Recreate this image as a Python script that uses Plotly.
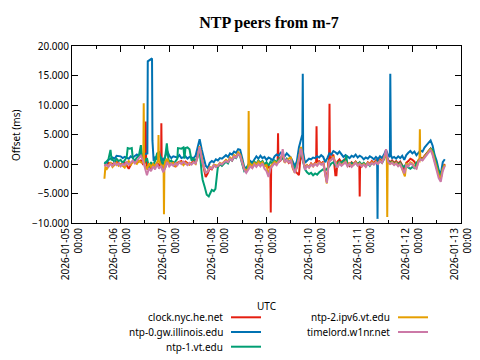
import pandas as pd
import plotly.graph_objects as go

# ---- data: (hours after 2026-01-05 00:00 UTC, offset in ms) ----
series_names = ["clock.nyc.he.net", "ntp-0.gw.illinois.edu", "ntp-1.vt.edu",
                "ntp-2.ipv6.vt.edu", "timelord.w1nr.net"]
series_colors = ["#e51e10", "#0072b2", "#009e73", "#e69f00", "#cc79a7"]

clock_nyc = [(16,-0.3),(18,0.2),(20,0.0),(22,0.4),(24,-0.1),(26,0.3),(28,-0.8),(29,-0.2),(30,0.5),(32,0.2),(34,0.6),(35,0.0),(36.2,0.3),(36.4,7.2),(36.6,0.4),(37.5,-1.0),(38,-0.3),(39,-0.8),(40,0.1),(41,-0.6),(42,0.3),(43,-0.4),(44.0,0.2),(44.1,6.9),(44.3,-0.5),(45,-1.2),(46,-0.6),(47,0.4),(48,-0.2),(50,0.3),(51,-0.5),(52,0.2),(54,0.5),(55,0.0),(56,0.4),(58,-0.1),(60,0.5),(61,0.2),(62,1.5),(63,2.8),(64,1.0),(65,-0.8),(66,-2.2),(67,-1.6),(68,-0.7),(69,-0.9),(70,-0.3),(72,-0.5),(73,0.0),(74,-0.2),(76,0.6),(77,0.3),(78,1.0),(79,0.6),(80,1.4),(81,1.2),(82,1.8),(83,1.6),(84,0.3),(85,-1.0),(86,-1.2),(87,-0.6),(88,-0.2),(89,-0.6),(90,0.3),(91,0.0),(92,0.5),(93,0.1),(94,0.4),(95,-0.3),(96,0.2),(97,-0.6),(97.9,-0.5),(98.1,-8.2),(98.3,-0.6),(99,-0.2),(100,0.3),(101,0.1),(101.5,0.4),(101.7,5.2),(101.9,0.3),(103,0.6),(104,1.5),(105,0.4),(106,0.8),(107,0.2),(108,0.5),(109,-0.6),(110,-1.2),(111,-1.5),(112,-1.9),(113,1.9),(114,0.8),(115,-0.6),(116,-0.2),(117,-0.5),(118,0.1),(119,-0.3),(120,0.2),(120.5,0.3),(120.7,6.4),(120.9,0.4),(122,0.5),(123,0.0),(124,0.4),(125,-1.5),(125.8,-3.0),(126.5,0.3),(126.9,0.8),(127.1,10.2),(127.3,0.6),(128,0.9),(129,1.6),(130,-1.9),(130.5,-1.9),(131,0.4),(132,0.8),(133,0.3),(134,0.6),(135,0.9),(136,0.2),(137,-0.3),(138,0.3),(139,0.0),(140,0.4),(141,-0.1),(141.8,0.2),(142,-5.5),(142.2,0.0),(143,-0.4),(144,0.1),(145,-0.3),(146,0.3),(147,0.0),(148,0.5),(149,0.1),(150,0.6),(151,0.2),(152,0.8),(153,0.4),(154,1.1),(155,1.8),(156,0.7),(157,0.3),(158,0.6),(159,0.2),(160,0.5),(161,0.1),(162,0.4),(163,-0.2),(164,-1.2),(165,0.2),(166,0.5),(167,0.9),(168,0.7),(169,0.4),(170,-0.3),(171,0.6),(172,1.1),(173,0.9),(174,1.4),(175,1.8),(176,2.3),(177,2.6),(178,1.8),(179,0.5),(180,-0.8),(181,-1.8),(182,-2.5),(183,-0.6),(184,0.0)]

ntp0_illinois = [(16,0.3),(17,0.1),(18,0.7),(20,1.1),(21,0.9),(22,1.4),(24,1.3),(25,1.0),(26,1.2),(28,0.9),(29,1.3),(30,1.1),(32,1.6),(33,1.3),(34,1.9),(35,1.5),(36,1.7),(37.2,1.8),(37.4,17.4),(38.5,17.7),(39.5,17.9),(39.7,4.0),(40.3,0.5),(41,1.2),(42,0.8),(43,1.5),(44,1.1),(45,0.6),(46,1.3),(47,2.2),(48,1.4),(49,1.0),(50,1.3),(52,1.1),(53,1.5),(54,1.0),(56,1.3),(57,0.9),(58,1.2),(60,1.0),(61,1.4),(62,2.6),(63,4.2),(64,2.5),(65,1.0),(66,-0.3),(67,-0.7),(68,0.2),(69,0.5),(70,0.3),(71,0.8),(72,0.6),(73,1.0),(74,0.9),(76,1.5),(77,1.2),(78,1.8),(79,1.6),(80,2.1),(81,1.9),(82,2.5),(83,2.4),(84,1.0),(85,-0.5),(86,-0.7),(87,0.0),(88,0.5),(89,0.2),(90,0.8),(91,1.3),(92,0.9),(93,1.4),(94,1.0),(95,1.2),(96,0.7),(97,1.1),(98,0.9),(99,0.6),(100,1.3),(101,1.6),(102,1.4),(103,1.9),(104,1.6),(105,1.3),(106,1.8),(107,1.5),(108,1.1),(109,0.4),(110,-0.4),(111,0.5),(112,2.8),(113,4.1),(113.7,5.0),(113.9,15.3),(114.1,2.0),(115,0.2),(116,0.6),(117,0.9),(118,0.8),(119,1.1),(120,1.0),(121,1.3),(122,1.1),(123,1.5),(124,1.2),(125,0.3),(126,1.0),(127,1.8),(128,1.6),(129,2.2),(130,2.0),(131,1.7),(132,2.1),(133,1.6),(134,1.2),(135,1.5),(136,1.3),(137,1.0),(138,1.4),(139,1.2),(140,1.6),(141,1.1),(142,1.4),(143,1.2),(144,0.8),(145,1.1),(146,0.9),(147,1.3),(148,1.1),(149,0.8),(150,1.2),(150.6,1.0),(150.8,-9.3),(151.0,0.8),(152,1.3),(153,1.0),(154,1.6),(155,2.4),(156,1.5),(156.9,1.2),(157.1,15.3),(157.4,1.5),(158,1.0),(159,1.2),(160,0.9),(161,1.3),(162,1.0),(163,1.4),(164,0.7),(165,1.5),(166,1.9),(167,2.2),(168,1.8),(169,2.1),(170,1.5),(171,2.0),(172,2.3),(173,2.1),(174,2.8),(175,3.2),(176,3.6),(177,4.0),(178,3.1),(179,1.5),(180,0.5),(181,-1.0),(182,-1.8),(182.5,-0.8),(183,0.3),(184,0.8)]

ntp1_vt = [(16,0.0),(17,0.4),(18,0.8),(19,2.4),(19.6,0.6),(20,0.8),(21,0.3),(22,0.9),(23,0.5),(24,0.7),(25,0.2),(26,0.6),(27,1.2),(27.5,2.7),(28.5,2.6),(29.5,2.7),(30,1.0),(31,0.5),(32,1.1),(33,1.4),(34,3.2),(34.5,1.6),(35,0.9),(36,0.4),(37,1.0),(38,-0.6),(39,0.3),(40,-0.2),(41,0.5),(42,1.8),(43,2.0),(44,0.8),(45,-0.4),(46,1.2),(46.8,3.5),(47.5,1.0),(48,0.3),(49,0.6),(50,0.1),(51,0.4),(52,0.9),(52.3,2.7),(54,2.6),(55,2.8),(55.5,0.9),(56,2.7),(57,2.8),(58,2.5),(59,0.6),(60,0.9),(61,0.5),(62,1.3),(63,2.3),(64,-1.5),(64.5,-2.7),(65.5,-3.9),(66.5,-5.2),(67.5,-5.5),(68.5,-4.8),(69,-4.4),(70,-4.6),(70.8,-4.2),(71.5,-2.0),(72,-0.5),(73,0.0),(74,-0.3),(76,0.4),(77,0.1),(78,0.9),(79,0.6),(80,1.2),(81,1.0),(82,1.7),(83,1.3),(84,0.0),(85,-1.2),(86,-0.9),(87,-0.2),(88,0.2),(89,-0.3),(90,0.4),(91,0.0),(92,0.6),(93,0.2),(94,0.5),(95,-0.1),(96,0.3),(97,-0.3),(98,0.4),(99,0.1),(100,0.6),(101,0.3),(102,0.8),(103,1.1),(104,0.9),(105,0.5),(106,0.9),(107,0.4),(108,0.6),(109,-0.2),(110,-0.9),(111,0.0),(112,1.0),(113,2.0),(114,0.5),(115,-0.9),(116,-1.4),(117,-1.7),(118,-1.5),(119,-1.9),(120,-1.6),(121,-1.8),(122,-1.4),(123,-1.2),(124,-0.9),(125,-1.1),(126,-0.8),(127,-0.4),(128,0.1),(129,0.3),(130,-0.2),(131,0.1),(132,0.4),(133,0.2),(134,0.6),(135,0.5),(135.4,1.5),(135.8,0.0),(137,-0.2),(138,0.2),(139,-0.1),(140,0.3),(141,0.0),(142,0.3),(143,-0.1),(144,0.2),(145,-0.2),(146,0.1),(147,-0.3),(148,0.2),(149,0.0),(150,0.3),(151,0.1),(152,0.5),(153,0.2),(154,0.8),(155,1.7),(156,0.5),(157,0.2),(158,0.4),(159,0.0),(160,0.3),(161,-0.1),(162,0.2),(163,-0.3),(164,-0.5),(165,0.1),(166,-0.6),(167,-0.8),(168,-0.5),(169,-0.7),(170,0.2),(171,0.5),(172,0.9),(173,0.8),(174,1.3),(175,1.7),(176,2.2),(177,2.6),(178,2.4),(179,1.2),(180,-0.2),(181,-1.3),(182,-2.0),(183,-0.8),(184,-0.2)]

ntp2_ipv6_vt = [(16,-2.5),(16.5,-0.4),(17,-1.0),(18,-0.2),(19,0.3),(20,-0.5),(22,0.2),(23,-0.3),(24,0.0),(26,-0.6),(27,0.1),(28,0.5),(29,-0.1),(30,0.4),(32,0.0),(33,0.6),(34,0.3),(35.2,0.2),(35.4,10.3),(35.6,0.3),(36,-0.4),(37,-0.9),(38,0.1),(39,-0.5),(40,0.0),(41,-0.4),(42,0.5),(42.5,0.6),(42.7,4.9),(42.9,0.5),(44,-0.2),(45.2,-0.3),(45.4,-8.5),(45.6,-0.5),(46,0.4),(47,0.9),(48,0.0),(50,0.2),(51,-0.3),(52,0.1),(54,0.3),(55,-0.2),(56,0.2),(58,-0.1),(60,0.3),(61,0.0),(62,1.2),(63,3.0),(64,1.2),(65,-0.5),(66,-1.5),(67,-1.2),(68,-0.5),(69,-0.7),(70,-0.1),(72,-0.3),(73,0.2),(74,0.0),(76,0.7),(77,0.4),(78,1.1),(79,0.8),(80,1.5),(81,1.3),(82,2.0),(83,1.6),(84,0.4),(85,-0.8),(86,-1.1),(87.0,-0.8),(87.2,9.0),(87.4,-0.5),(88,0.0),(89,-0.4),(90,0.2),(91,-0.1),(92,0.4),(93,0.0),(94,0.3),(95,-0.5),(96,-0.1),(97,-2.0),(98,-0.4),(99,0.0),(100,0.4),(101,0.1),(102,0.6),(103,0.9),(104,1.8),(105,0.2),(106,0.6),(107,0.9),(108,1.2),(109,-0.8),(110,-1.5),(111,-0.6),(112,0.9),(113,2.9),(114,1.0),(115,-0.7),(116,-0.2),(117,-0.6),(118,0.0),(119,-0.4),(120,0.1),(121,-0.2),(122,0.3),(123,0.0),(124,0.2),(125,-1.8),(125.8,-3.3),(126.5,-0.5),(127,0.6),(128,0.8),(129,1.3),(130,0.3),(131,-0.5),(132,0.2),(133,-0.2),(134,0.1),(135,0.4),(136,-0.3),(137,0.1),(138,-0.4),(139,0.0),(140,0.3),(141,-0.2),(142,0.1),(143,-0.3),(144,0.0),(145,-0.4),(146,0.2),(147,-0.1),(148,0.3),(149,0.0),(150,0.4),(151,0.1),(152,0.6),(153,0.3),(154,1.0),(155,1.9),(155.4,0.5),(155.6,-9.0),(155.8,0.3),(157,0.0),(158,0.3),(159,-0.1),(160,0.2),(161,-0.3),(162,0.0),(163,-1.0),(164.3,-2.1),(165,0.0),(166,-0.2),(167,0.3),(168,0.1),(169,-0.5),(170,-0.7),(171,0.6),(171.5,0.5),(171.7,5.9),(171.9,0.8),(173,0.7),(174,1.3),(175,1.6),(176,2.2),(177,2.5),(178,1.9),(179,0.6),(180,-0.8),(181,-1.9),(182,-2.4),(183,-0.8),(184,-0.1)]

timelord_w1nr = [(16,-0.4),(17,-0.1),(18,-0.5),(19,0.0),(20,-0.3),(21,0.2),(22,-0.2),(23,0.1),(24,-0.4),(25,0.0),(26,-0.2),(27,0.3),(28,-0.1),(29,0.2),(30,0.6),(31,0.1),(32,0.5),(33,0.9),(34,1.4),(35,0.6),(36,-0.6),(37,-1.9),(38,-0.7),(39,-1.2),(40,-0.4),(41,-0.9),(42,0.0),(43,-0.8),(44,-0.3),(45,-1.4),(46,-0.6),(47,0.3),(48,-0.4),(49,0.0),(50,-0.3),(51,0.1),(52,-0.2),(53,0.3),(54,0.0),(55,0.4),(56,0.1),(57,-0.2),(58,0.2),(59,-0.1),(60,0.3),(61,0.1),(62,1.2),(63,2.9),(64,0.8),(65,-0.6),(66,-1.5),(67,-1.3),(68,-0.6),(69,-0.8),(70,-0.2),(71,-0.5),(72,-0.3),(73,0.1),(74,-0.1),(75,0.3),(76,0.5),(77,0.3),(78,0.9),(79,0.6),(80,1.3),(81,1.1),(82,1.7),(83,1.4),(84,0.2),(85,-1.0),(86,-1.5),(87,-1.0),(88,-0.4),(89,-0.7),(90,-0.1),(91,-0.5),(92,0.0),(93,-0.4),(94,0.1),(95,-0.8),(96,-1.2),(97,-2.2),(98,-0.7),(99,-0.3),(100,0.1),(101,-0.2),(102,0.4),(103,0.7),(104,2.5),(105,0.3),(106,0.7),(107,0.3),(108,0.6),(109,-0.5),(110,-1.5),(111,-0.5),(112,0.8),(113,2.6),(114,0.6),(115,-1.0),(116,-0.3),(117,-0.6),(118,-0.1),(119,-0.4),(120,0.0),(121,-0.3),(122,0.2),(123,-0.1),(124,0.1),(125,-1.6),(125.8,-3.2),(126.5,-0.6),(127,0.4),(128,0.7),(129,1.1),(130,0.1),(131,-0.6),(132,0.1),(133,-0.3),(134,0.0),(135,0.3),(136,-0.4),(137,0.0),(138,-0.5),(139,-0.1),(140,0.2),(141,-0.3),(142,0.0),(143,-0.4),(144,-0.1),(145,-0.5),(146,0.1),(147,-0.2),(148,0.2),(149,-0.1),(150,0.3),(151,0.0),(152,0.5),(153,0.2),(154,1.0),(155,2.5),(156,0.4),(157,0.0),(158,0.2),(159,-0.2),(160,0.1),(161,-0.4),(162,-0.1),(163,-0.8),(164,-1.6),(165,-0.2),(166,-0.4),(167,0.1),(168,-0.1),(169,-0.6),(170,-0.8),(171,0.3),(172,0.8),(173,0.6),(174,1.1),(175,1.5),(176,2.0),(177,2.4),(178,1.5),(179,0.2),(180,-1.2),(181,-2.4),(182,-3.0),(183,-1.2),(184,-0.3)]

series_data = [clock_nyc, ntp0_illinois, ntp1_vt, ntp2_ipv6_vt, timelord_w1nr]
y_ticks = [-10, -5, 0, 5, 10, 15, 20]
t0 = pd.Timestamp("2026-01-05 00:00")

FONT = "Noto Sans"

fig = go.Figure()
for name, color, pts in zip(series_names, series_colors, series_data):
    times = [t0 + pd.Timedelta(hours=h) for h, _ in pts]
    vals = [v for _, v in pts]
    fig.add_trace(go.Scatter(x=times, y=vals, mode="lines", name=name,
                             line=dict(color=color, width=2), showlegend=False))

# The page body has an 8px margin, so the figure is 8px smaller and all
# screen positions below are given in window pixels, then shifted by 8.
OFF = 8
FW, FH = 480 - OFF, 360 - OFF
PL, PR, PT, PB = 72, 461, 46, 223          # plot box in window pixels
L, T = PL - OFF, PT - OFF
R, B = FW - (PR - OFF), FH - (PB - OFF)
W, H = PR - PL, PB - PT

def px(x):
    return (x - PL) / W

def py(y):
    return (PB - y) / H

# gnuplot-style legend: text right-aligned, line sample to the right
legend_slots = [(225, 317.3), (225, 332), (225, 346.7), (392, 317.3), (392, 332)]
for name, color, (xr, yc) in zip(series_names, series_colors, legend_slots):
    fig.add_annotation(x=px(xr), y=py(yc), xref="paper", yref="paper", text=name,
                       showarrow=False, xanchor="right", yanchor="middle",
                       font=dict(family=FONT, size=10, color="#000000"))
    fig.add_shape(type="line", xref="paper", yref="paper",
                  x0=px(xr + 6), x1=px(xr + 36), y0=py(yc), y1=py(yc),
                  line=dict(color=color, width=2))

# axis titles
fig.add_annotation(x=0.5, y=py(306), xref="paper", yref="paper", text="UTC",
                   showarrow=False, xanchor="center", yanchor="middle",
                   font=dict(family=FONT, size=10, color="#000000"))
fig.add_annotation(x=px(16), y=py(136), xref="paper", yref="paper", text="Offset (ms)",
                   showarrow=False, xanchor="center", yanchor="middle", textangle=-90,
                   font=dict(family=FONT, size=10, color="#000000"))

fig.update_layout(
    width=FW, height=FH,
    margin=dict(l=L, r=R, t=T, b=B, autoexpand=False),
    paper_bgcolor="white", plot_bgcolor="white",
    showlegend=False,
    title=dict(text="<b>NTP peers from m-7</b>", x=(269 - OFF) / FW, xanchor="center",
               y=1 - (22 - OFF) / FH, yanchor="middle",
               font=dict(family="Liberation Serif", size=16, color="#000000")),
    font=dict(family=FONT, size=10, color="#000000"),
)

fig.update_xaxes(
    type="date", automargin=False,
    range=["2026-01-05 00:00", "2026-01-13 00:00"],
    tick0="2026-01-05", dtick=86400000,
    tickformat="%Y-%m-%d<br>%H:%M", tickangle=-90,
    ticks="inside", ticklen=6, tickcolor="#000000",
    minor=dict(ticks="inside", dtick=43200000, ticklen=3, tickcolor="#000000"),
    showline=True, linecolor="#000000", linewidth=1, mirror="allticks",
    showgrid=False, zeroline=False,
    tickfont=dict(family=FONT, size=10, color="#000000"),
)
fig.update_yaxes(
    automargin=False,
    range=[-10, 20], tickvals=y_ticks, tickformat=".3f",
    ticks="inside", ticklen=6, tickcolor="#000000",
    showline=True, linecolor="#000000", linewidth=1, mirror="allticks",
    showgrid=False, zeroline=False,
    tickfont=dict(family=FONT, size=10, color="#000000"),
)

fig.write_html("out.html")
